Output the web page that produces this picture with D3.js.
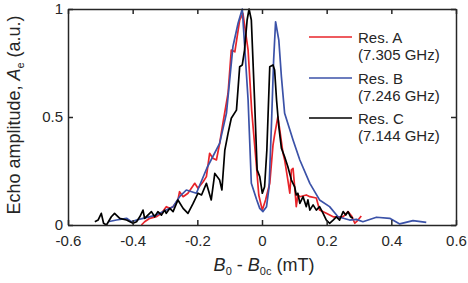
<!DOCTYPE html>
<html>
<head>
<meta charset="utf-8">
<script src="https://cdn.jsdelivr.net/npm/d3@7"></script>
<style>
  html, body { margin: 0; padding: 0; background: #fff; }
  svg { display: block; }
  text { font-family: "Liberation Sans", Arial, sans-serif; fill: #262626; }
</style>
</head>
<body>
<svg id="chart" width="468" height="283"></svg>
<script>
// ---- Data ----
const xTicks = [-0.6, -0.4, -0.2, 0, 0.2, 0.4, 0.6];
const xTickLabels = ["-0.6", "-0.4", "-0.2", "0", "0.2", "0.4", "0.6"];
const yTicks = [0, 0.5, 1];
const yTickLabels = ["0", "0.5", "1"];

const seriesNames = ["Res. A", "Res. B", "Res. C"];
const seriesFreqs = ["(7.305 GHz)", "(7.246 GHz)", "(7.144 GHz)"];
const seriesColors = ["#e8242a", "#3b52a8", "#000000"];

const resA_x = [-0.373,-0.363,-0.347,-0.327,-0.311,-0.296,-0.285,-0.275,-0.260,-0.255,-0.244,-0.229,-0.208,-0.198,-0.182,-0.172,-0.162,-0.152,-0.141,-0.131,-0.121,-0.105,-0.095,-0.084,-0.069,-0.059,-0.043,-0.032,-0.017,-0.010,0.001,0.011,0.024,0.034,0.039,0.049,0.055,0.065,0.070,0.080,0.086,0.091,0.096,0.101,0.106,0.111,0.117,0.137,0.148,0.168,0.178,0.199,0.220,0.251,0.266,0.277,0.287,0.297,0.307];
const resA_y = [0.000,0.015,0.031,0.038,0.054,0.085,0.077,0.085,0.116,0.154,0.131,0.147,0.193,0.170,0.200,0.224,0.332,0.309,0.301,0.378,0.471,0.610,0.810,0.802,0.949,0.980,0.810,0.532,0.270,0.139,0.069,0.116,0.193,0.370,0.417,0.501,0.440,0.332,0.301,0.208,0.147,0.255,0.262,0.177,0.085,0.139,0.131,0.139,0.131,0.125,0.069,0.054,0.038,0.038,0.062,0.042,0.008,0.023,0.042];

const resB_x = [-0.476,-0.450,-0.419,-0.404,-0.388,-0.368,-0.327,-0.296,-0.275,-0.255,-0.234,-0.203,-0.170,-0.131,-0.110,-0.090,-0.074,-0.061,-0.043,-0.033,-0.017,-0.007,0.003,0.014,0.022,0.029,0.036,0.042,0.052,0.060,0.070,0.096,0.117,0.148,0.178,0.209,0.235,0.271,0.292,0.312,0.354,0.395,0.426,0.467,0.508];
const resB_y = [0.015,0.023,0.031,0.015,0.023,0.031,0.046,0.069,0.085,0.131,0.162,0.147,0.265,0.378,0.517,0.825,0.934,1.000,0.579,0.193,0.119,0.077,0.062,0.085,0.177,0.455,0.764,0.941,0.856,0.687,0.517,0.394,0.301,0.193,0.116,0.085,0.038,0.023,0.026,0.015,0.036,0.031,0.005,0.020,0.012];

const resC_x = [-0.517,-0.507,-0.497,-0.490,-0.481,-0.466,-0.456,-0.440,-0.419,-0.399,-0.388,-0.378,-0.368,-0.363,-0.353,-0.342,-0.332,-0.322,-0.311,-0.301,-0.296,-0.285,-0.275,-0.260,-0.244,-0.229,-0.213,-0.198,-0.187,-0.172,-0.157,-0.146,-0.131,-0.124,-0.115,-0.105,-0.095,-0.079,-0.069,-0.061,-0.054,-0.046,-0.040,-0.033,-0.023,-0.015,-0.007,0.001,0.008,0.015,0.024,0.034,0.039,0.045,0.052,0.060,0.070,0.080,0.091,0.101,0.106,0.111,0.117,0.127,0.137,0.142,0.148,0.158,0.168,0.178,0.189,0.199,0.209,0.220,0.230,0.240,0.251,0.259,0.266,0.274,0.281];
const resC_y = [0.015,0.023,0.054,0.008,0.000,0.038,0.054,0.031,0.023,0.008,0.015,0.038,0.069,0.031,0.046,0.062,0.038,0.062,0.046,0.069,0.054,0.077,0.062,0.116,0.077,0.054,0.100,0.147,0.139,0.193,0.116,0.239,0.208,0.162,0.347,0.424,0.494,0.532,0.733,0.741,0.810,0.949,1.000,0.949,0.579,0.255,0.224,0.147,0.177,0.347,0.733,0.741,0.718,0.579,0.455,0.356,0.316,0.270,0.208,0.177,0.139,0.147,0.100,0.131,0.085,0.116,0.069,0.093,0.069,0.085,0.054,0.023,0.008,0.023,0.038,0.023,0.062,0.046,0.062,0.038,0.031];

const seriesX = [resA_x, resB_x, resC_x];
const seriesY = [resA_y, resB_y, resC_y];

// ---- Layout ----
const svg = d3.select("#chart");
const mLeft = 68, mRight = 456, mTop = 9, mBottom = 225;
const axisColor = "#262626";

const x = d3.scaleLinear().domain([-0.6, 0.6]).range([mLeft, mRight]);
const y = d3.scaleLinear().domain([0, 1]).range([mBottom, mTop]);

// series
const line = d3.line().x(d => x(d[0])).y(d => y(d[1]));
seriesX.forEach((xs, i) => {
  const pts = xs.map((v, j) => [v, seriesY[i][j]]);
  svg.append("path")
    .datum(pts)
    .attr("fill", "none")
    .attr("stroke", seriesColors[i])
    .attr("stroke-width", 1.7)
    .attr("stroke-linejoin", "round")
    .attr("d", line);
});

// axes (ticks inward, box)
const tickLen = 5;
const fmtX = (d, i) => xTickLabels[i];
const fmtY = (d, i) => yTickLabels[i];

const gB = svg.append("g").attr("transform", `translate(0,${mBottom})`)
  .call(d3.axisBottom(x).tickValues(xTicks).tickFormat(fmtX).tickSizeInner(-tickLen).tickSizeOuter(0).tickPadding(10));
const gT = svg.append("g").attr("transform", `translate(0,${mTop})`)
  .call(d3.axisTop(x).tickValues(xTicks).tickFormat("").tickSizeInner(-tickLen).tickSizeOuter(0));
const gL = svg.append("g").attr("transform", `translate(${mLeft},0)`)
  .call(d3.axisLeft(y).tickValues(yTicks).tickFormat(fmtY).tickSizeInner(-tickLen).tickSizeOuter(0).tickPadding(5));
const gR = svg.append("g").attr("transform", `translate(${mRight},0)`)
  .call(d3.axisRight(y).tickValues(yTicks).tickFormat("").tickSizeInner(-tickLen).tickSizeOuter(0));

[gB, gT, gL, gR].forEach(g => {
  g.select(".domain").attr("stroke", axisColor).attr("stroke-width", 1.5);
  g.selectAll(".tick line").attr("stroke", axisColor).attr("stroke-width", 1.5);
  g.selectAll(".tick text").attr("fill", axisColor).style("font-family", "'Liberation Sans', Arial, sans-serif").style("font-size", "15px");
});
// keep the y "0" label clear of the x labels below it
gL.selectAll(".tick text").attr("dy", "0.3em");

// axis titles
const xt = svg.append("text")
  .attr("x", 264).attr("y", 271)
  .attr("text-anchor", "middle")
  .style("font-size", "18px");
xt.append("tspan").attr("font-style", "italic").text("B");
xt.append("tspan").attr("dy", 4).style("font-size", "11px").text("0");
xt.append("tspan").attr("dy", -4).text(" - ");
xt.append("tspan").attr("font-style", "italic").text("B");
xt.append("tspan").attr("dy", 4).style("font-size", "11px").text("0c");
xt.append("tspan").attr("dy", -4).text(" (mT)");

const yt = svg.append("text")
  .attr("transform", `translate(20,115) rotate(-90)`)
  .attr("text-anchor", "middle")
  .style("font-size", "18px");
yt.append("tspan").text("Echo amplitude, ");
yt.append("tspan").attr("font-style", "italic").text("A");
yt.append("tspan").attr("dy", 4).style("font-size", "11px").text("e");
yt.append("tspan").attr("dy", -4).text(" (a.u.)");

// legend
const legY = [37, 78, 118];
seriesNames.forEach((name, i) => {
  svg.append("line")
    .attr("x1", 309).attr("x2", 352)
    .attr("y1", legY[i]).attr("y2", legY[i])
    .attr("stroke", seriesColors[i]).attr("stroke-width", 1.7);
  svg.append("text").attr("x", 358).attr("y", legY[i] + 6)
    .style("font-size", "15px").text(name);
  svg.append("text").attr("x", 358).attr("y", legY[i] + 22.5)
    .style("font-size", "15px").text(seriesFreqs[i]);
});
</script>
</body>
</html>
